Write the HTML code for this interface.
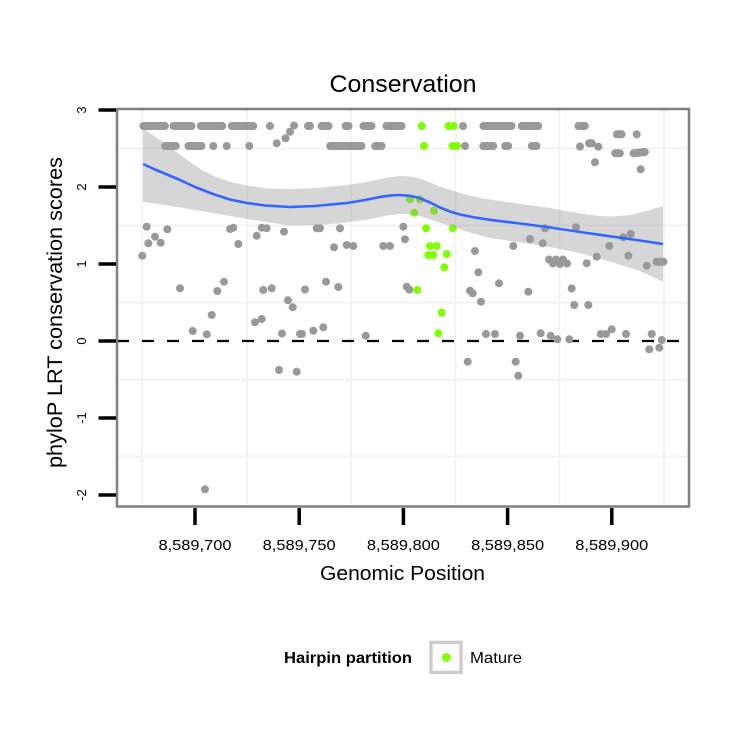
<!DOCTYPE html>
<html>
<head>
<meta charset="utf-8">
<style>
html,body{margin:0;padding:0;background:#fff;}
svg{display:block;}
text{font-family:"Liberation Sans",Arial,sans-serif;fill:#000;}
</style>
</head>
<body>
<svg width="750" height="750" viewBox="0 0 750 750" xmlns="http://www.w3.org/2000/svg">
<rect x="0" y="0" width="750" height="750" fill="#fff"/>
<rect x="117" y="109" width="572" height="397.5" fill="#fff"/>
<g stroke="#f3f3f3" stroke-width="2">
<line x1="142" y1="109" x2="142" y2="506"/>
<line x1="247" y1="109" x2="247" y2="506"/>
<line x1="351" y1="109" x2="351" y2="506"/>
<line x1="455.5" y1="109" x2="455.5" y2="506"/>
<line x1="559.5" y1="109" x2="559.5" y2="506"/>
<line x1="664" y1="109" x2="664" y2="506"/>
<line x1="117" y1="148.5" x2="689" y2="148.5"/>
<line x1="117" y1="225.5" x2="689" y2="225.5"/>
<line x1="117" y1="302.5" x2="689" y2="302.5"/>
<line x1="117" y1="379.5" x2="689" y2="379.5"/>
<line x1="117" y1="456.5" x2="689" y2="456.5"/>
</g>
<line x1="117" y1="341" x2="689" y2="341" stroke="#000" stroke-width="2.3" stroke-dasharray="12 13"/>
<g stroke="#999999" stroke-width="8" stroke-linecap="round">
<line x1="143.5" y1="126" x2="164.8" y2="126"/>
<line x1="173.5" y1="126" x2="191.5" y2="126"/>
<line x1="200.8" y1="126" x2="222.2" y2="126"/>
<line x1="231.8" y1="126" x2="253.2" y2="126"/>
<line x1="308" y1="126" x2="310" y2="126"/>
<line x1="321.5" y1="126" x2="328.5" y2="126"/>
<line x1="345.5" y1="126" x2="348.5" y2="126"/>
<line x1="363.5" y1="126" x2="371.5" y2="126"/>
<line x1="386.5" y1="126" x2="401.5" y2="126"/>
<line x1="483.5" y1="126" x2="511.5" y2="126"/>
<line x1="521.8" y1="126" x2="538.2" y2="126"/>
<line x1="578.5" y1="126" x2="584.8" y2="126"/>
<line x1="165.2" y1="146" x2="175.8" y2="146"/>
<line x1="188.5" y1="146" x2="201.5" y2="146"/>
<line x1="330.2" y1="146" x2="361.5" y2="146"/>
<line x1="375.2" y1="146" x2="381.5" y2="146"/>
<line x1="483.3" y1="146" x2="493.2" y2="146"/>
<line x1="505.2" y1="146" x2="508.2" y2="146"/>
<line x1="531.8" y1="146" x2="536.5" y2="146"/>
<line x1="589" y1="143.3" x2="592" y2="143.3"/>
<line x1="616.8" y1="134.3" x2="621.5" y2="134.3"/>
<line x1="615.2" y1="153.3" x2="619.8" y2="153.3"/>
<line x1="633.5" y1="153.3" x2="644.8" y2="152"/>
<line x1="656.5" y1="261.7" x2="663.5" y2="261.7"/>
</g>
<g fill="#999999">
<circle cx="270" cy="126" r="4"/>
<circle cx="463" cy="126" r="4"/>
<circle cx="213.3" cy="146" r="4"/>
<circle cx="226.7" cy="146" r="4"/>
<circle cx="249.3" cy="146" r="4"/>
<circle cx="465" cy="146" r="4"/>
<circle cx="580" cy="146.5" r="4"/>
<circle cx="598.3" cy="146.7" r="4"/>
<circle cx="636.7" cy="134.3" r="4"/>
<circle cx="595" cy="162.3" r="4"/>
<circle cx="640.7" cy="169.3" r="4"/>
<circle cx="276.7" cy="143.3" r="4"/>
<circle cx="285.5" cy="138.3" r="4"/>
<circle cx="290" cy="131.7" r="4"/>
<circle cx="294" cy="125.5" r="4"/>
<circle cx="146.7" cy="226.7" r="4"/>
<circle cx="167.3" cy="229.3" r="4"/>
<circle cx="155" cy="236.7" r="4"/>
<circle cx="148.3" cy="243.3" r="4"/>
<circle cx="160.7" cy="242.7" r="4"/>
<circle cx="142.3" cy="255.7" r="4"/>
<circle cx="230" cy="229" r="4"/>
<circle cx="233.3" cy="227.7" r="4"/>
<circle cx="238.3" cy="244" r="4"/>
<circle cx="256.7" cy="235.7" r="4"/>
<circle cx="261.7" cy="227.7" r="4"/>
<circle cx="266.7" cy="228.3" r="4"/>
<circle cx="284" cy="231.7" r="4"/>
<circle cx="180" cy="288.3" r="4"/>
<circle cx="224" cy="281.7" r="4"/>
<circle cx="217.3" cy="291" r="4"/>
<circle cx="263.3" cy="290" r="4"/>
<circle cx="271.7" cy="288.3" r="4"/>
<circle cx="211.7" cy="315" r="4"/>
<circle cx="192.7" cy="331" r="4"/>
<circle cx="206.7" cy="334.3" r="4"/>
<circle cx="255" cy="322.3" r="4"/>
<circle cx="261.7" cy="319" r="4"/>
<circle cx="282" cy="333.5" r="4"/>
<circle cx="279" cy="370" r="4"/>
<circle cx="205" cy="489.3" r="4"/>
<circle cx="288" cy="300.3" r="4"/>
<circle cx="292.7" cy="307.3" r="4"/>
<circle cx="300" cy="334" r="4"/>
<circle cx="302" cy="334" r="4"/>
<circle cx="313.3" cy="330.7" r="4"/>
<circle cx="323.3" cy="327.3" r="4"/>
<circle cx="365.7" cy="335.7" r="4"/>
<circle cx="296.7" cy="371.7" r="4"/>
<circle cx="406.7" cy="286.7" r="4"/>
<circle cx="409.3" cy="289.7" r="4"/>
<circle cx="470" cy="290.7" r="4"/>
<circle cx="472.7" cy="293.3" r="4"/>
<circle cx="481" cy="301.7" r="4"/>
<circle cx="486" cy="334" r="4"/>
<circle cx="467.7" cy="361.7" r="4"/>
<circle cx="403.3" cy="226.7" r="4"/>
<circle cx="405" cy="239.3" r="4"/>
<circle cx="316.7" cy="228.3" r="4"/>
<circle cx="320" cy="228.3" r="4"/>
<circle cx="340" cy="228.3" r="4"/>
<circle cx="334" cy="247.3" r="4"/>
<circle cx="346.7" cy="245" r="4"/>
<circle cx="353.3" cy="246" r="4"/>
<circle cx="383.3" cy="246" r="4"/>
<circle cx="390" cy="246" r="4"/>
<circle cx="475" cy="251" r="4"/>
<circle cx="478.3" cy="272.3" r="4"/>
<circle cx="326" cy="281.7" r="4"/>
<circle cx="338.3" cy="287" r="4"/>
<circle cx="305" cy="289.5" r="4"/>
<circle cx="545" cy="228.3" r="4"/>
<circle cx="576" cy="227.3" r="4"/>
<circle cx="530" cy="239" r="4"/>
<circle cx="513.3" cy="246" r="4"/>
<circle cx="542.7" cy="243.3" r="4"/>
<circle cx="549" cy="259.5" r="4"/>
<circle cx="553" cy="263.5" r="4"/>
<circle cx="556" cy="259.5" r="4"/>
<circle cx="560" cy="264" r="4"/>
<circle cx="563" cy="259.5" r="4"/>
<circle cx="567" cy="263.5" r="4"/>
<circle cx="586.7" cy="263.3" r="4"/>
<circle cx="596.7" cy="256.7" r="4"/>
<circle cx="609.3" cy="246" r="4"/>
<circle cx="623.3" cy="237.3" r="4"/>
<circle cx="630.7" cy="234" r="4"/>
<circle cx="628.3" cy="255.7" r="4"/>
<circle cx="646.7" cy="265.7" r="4"/>
<circle cx="499" cy="283.3" r="4"/>
<circle cx="528.3" cy="291.7" r="4"/>
<circle cx="571.7" cy="288.5" r="4"/>
<circle cx="574.3" cy="305" r="4"/>
<circle cx="588.3" cy="305" r="4"/>
<circle cx="495" cy="334" r="4"/>
<circle cx="520" cy="335.7" r="4"/>
<circle cx="540.7" cy="333.3" r="4"/>
<circle cx="550.7" cy="335.7" r="4"/>
<circle cx="557.3" cy="339.3" r="4"/>
<circle cx="569.3" cy="339.3" r="4"/>
<circle cx="600.7" cy="334" r="4"/>
<circle cx="606" cy="334" r="4"/>
<circle cx="611.7" cy="329.3" r="4"/>
<circle cx="626" cy="334" r="4"/>
<circle cx="651.7" cy="334" r="4"/>
<circle cx="661.7" cy="340" r="4"/>
<circle cx="649.3" cy="349.3" r="4"/>
<circle cx="659.3" cy="347.7" r="4"/>
<circle cx="515.7" cy="361.7" r="4"/>
<circle cx="518.3" cy="375.7" r="4"/>
</g>
<g fill="#7fff00">
<circle cx="421.7" cy="126" r="4"/>
<circle cx="448.5" cy="126" r="4"/>
<circle cx="453.5" cy="126" r="4"/>
<circle cx="424" cy="146" r="4"/>
<circle cx="452.5" cy="146" r="4"/>
<circle cx="457" cy="146" r="4"/>
<circle cx="410" cy="199.3" r="4"/>
<circle cx="420" cy="199.3" r="4"/>
<circle cx="414.3" cy="212.7" r="4"/>
<circle cx="434" cy="210.7" r="4"/>
<circle cx="426" cy="228.3" r="4"/>
<circle cx="452.7" cy="228.3" r="4"/>
<circle cx="430" cy="246" r="4"/>
<circle cx="436.7" cy="246" r="4"/>
<circle cx="428.3" cy="255" r="4"/>
<circle cx="433.3" cy="255" r="4"/>
<circle cx="446.7" cy="254" r="4"/>
<circle cx="444.3" cy="267.3" r="4"/>
<circle cx="417.3" cy="290" r="4"/>
<circle cx="441.7" cy="312.7" r="4"/>
<circle cx="438.3" cy="333.3" r="4"/>
</g>
<path fill="#999999" fill-opacity="0.4" stroke="none" d="M143,128 L152,134.5 L162,141.5 L172,149 L182,156 L192,163.5 L202,170 L215,176.5 L230,182 L250,186 L270,188.5 L290,189 L315,188 L347,185 L370,181.5 L390,177 L400,176 L410,176.5 L420,178.5 L430,182.5 L440,186.5 L452,190.5 L465,194.5 L480,198 L510,202.5 L547,207.5 L580,213.5 L600,216 L613,216.5 L630,215 L645,211.5 L663,206 L663,281.7 L640,271 L613,262.5 L580,253 L547,246.5 L520,242.5 L490,238 L465,231 L447,225 L432,220 L420,216 L410,214.3 L400,214 L390,215 L370,219 L347,222.5 L320,225 L290,225.5 L250,219.5 L213,213 L180,207.5 L143,201.7 Z"/>
<polyline fill="none" stroke="#3366ff" stroke-width="2.6" stroke-linejoin="round" points="143,164 155,169.5 167,174.5 180,180 195,187 213,194 230,199.5 247,203 265,205.5 290,207 315,206 347,203 365,200 380,197 392,195.3 400,195 410,195.8 420,198.3 430,202.5 440,207.5 450,211.5 460,214.5 475,217.5 490,219.8 520,223.5 547,227 580,232 613,236.7 640,240.5 663,244"/>
<rect x="117" y="109" width="572" height="397.5" fill="none" stroke="#7f7f7f" stroke-width="2.5"/>
<g stroke="#000" stroke-width="3.5">
<line x1="98.5" y1="110" x2="116" y2="110"/>
<line x1="98.5" y1="187" x2="116" y2="187"/>
<line x1="98.5" y1="264" x2="116" y2="264"/>
<line x1="98.5" y1="341" x2="116" y2="341"/>
<line x1="98.5" y1="418" x2="116" y2="418"/>
<line x1="98.5" y1="495" x2="116" y2="495"/>
<line x1="195" y1="508" x2="195" y2="525"/>
<line x1="299.2" y1="508" x2="299.2" y2="525"/>
<line x1="403.4" y1="508" x2="403.4" y2="525"/>
<line x1="507.6" y1="508" x2="507.6" y2="525"/>
<line x1="611.8" y1="508" x2="611.8" y2="525"/>
</g>
<g font-size="13" text-anchor="middle">
<text transform="translate(86,110) rotate(-90)">3</text>
<text transform="translate(86,187) rotate(-90)">2</text>
<text transform="translate(86,264) rotate(-90)">1</text>
<text transform="translate(86,341) rotate(-90)">0</text>
<text transform="translate(86,418) rotate(-90)">-1</text>
<text transform="translate(86,495) rotate(-90)">-2</text>
</g>
<g font-size="15" text-anchor="middle">
<text x="195" y="550" textLength="73" lengthAdjust="spacingAndGlyphs">8,589,700</text>
<text x="299.2" y="550" textLength="73" lengthAdjust="spacingAndGlyphs">8,589,750</text>
<text x="403.4" y="550" textLength="73" lengthAdjust="spacingAndGlyphs">8,589,800</text>
<text x="507.6" y="550" textLength="73" lengthAdjust="spacingAndGlyphs">8,589,850</text>
<text x="611.8" y="550" textLength="73" lengthAdjust="spacingAndGlyphs">8,589,900</text>
</g>
<text x="403" y="92" font-size="24" text-anchor="middle" textLength="147" lengthAdjust="spacingAndGlyphs">Conservation</text>
<text x="402.5" y="580" font-size="20" text-anchor="middle" textLength="165" lengthAdjust="spacingAndGlyphs">Genomic Position</text>
<text transform="translate(62,312.5) rotate(-90)" font-size="21" text-anchor="middle" textLength="311" lengthAdjust="spacingAndGlyphs">phyloP LRT conservation scores</text>
<text x="284" y="663" font-size="16" font-weight="bold" textLength="128" lengthAdjust="spacingAndGlyphs">Hairpin partition</text>
<rect x="431" y="642.4" width="30" height="30" fill="#fff" stroke="#cccccc" stroke-width="3.3"/>
<circle cx="446.3" cy="657.5" r="4.4" fill="#7fff00"/>
<text x="470" y="663" font-size="16" textLength="52" lengthAdjust="spacingAndGlyphs">Mature</text>
</svg>
</body>
</html>
